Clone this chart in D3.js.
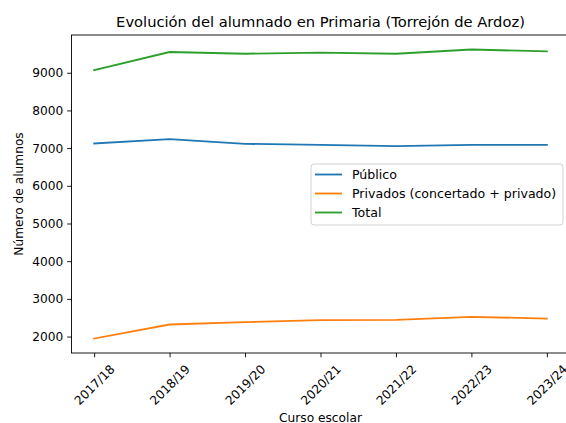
<!DOCTYPE html>
<html>
<head>
<meta charset="utf-8">
<script src="https://cdn.jsdelivr.net/npm/d3@7"></script>
<style>
  body { margin: 0; background: #fff; }
  svg { display: block; font-family: "DejaVu Sans", sans-serif; }
</style>
</head>
<body>
<svg></svg>
<script>
let cursos = ["2017/18", "2018/19", "2019/20", "2020/21", "2021/22", "2022/23", "2023/24"]
let publico = [7122, 7239, 7114, 7088, 7053, 7088, 7088]
let privados = [1947, 2319, 2383, 2436, 2444, 2523, 2478]
let total = [9069, 9550, 9505, 9535, 9505, 9618, 9566]
let yTicks = [2000, 3000, 4000, 5000, 6000, 7000, 8000, 9000]

let series = [
  { name: "Público", values: publico, color: "#1f77b4" },
  { name: "Privados (concertado + privado)", values: privados, color: "#ff7f0e" },
  { name: "Total", values: total, color: "#2ca02c" }
]

let w = 566
let h = 423
let pLeft = 71.5
let pRight = 569.5
let pTop = 35
let pBottom = 353
let fs = 12.2

let svg = d3.select("svg").attr("width", w).attr("height", h)

// matplotlib-like 5% margins
let n = cursos.length
let xScale = d3.scaleLinear()
  .domain([-0.05 * (n - 1), (n - 1) * 1.05])
  .range([pLeft, pRight])

let all = publico.concat(privados, total)
let lo = d3.min(all), hi = d3.max(all)
let m = (hi - lo) * 0.05
let yScale = d3.scaleLinear()
  .domain([lo - m, hi + m])
  .range([pBottom, pTop])

let xAxis = d3.axisBottom(xScale)
  .tickValues(d3.range(n))
  .tickFormat((i) => cursos[i])
  .tickSize(4.3)
  .tickSizeOuter(0)

let yAxis = d3.axisLeft(yScale)
  .tickValues(yTicks)
  .tickFormat(d3.format("d"))
  .tickSize(4.3)
  .tickPadding(4)
  .tickSizeOuter(0)

let gx = svg.append("g")
  .attr("transform", `translate(0, ${pBottom})`)
  .call(xAxis)
gx.select(".domain").remove()
gx.selectAll("line").attr("stroke", "#000").attr("stroke-width", 0.9)
gx.selectAll("text")
  .attr("font-size", fs)
  .attr("font-family", "DejaVu Sans")
  .attr("fill", "#000")
  .attr("text-anchor", "middle")
  .attr("dominant-baseline", "central")
  .attr("y", 0)
  .attr("dy", 0)
  .attr("transform", "translate(0, 32) rotate(-45)")

let gy = svg.append("g")
  .attr("transform", `translate(${pLeft}, 0)`)
  .call(yAxis)
gy.select(".domain").remove()
gy.selectAll("line").attr("stroke", "#000").attr("stroke-width", 0.9)
gy.selectAll("text")
  .attr("font-size", fs)
  .attr("font-family", "DejaVu Sans")
  .attr("fill", "#000")

// lines
let line = d3.line()
  .x((d, i) => xScale(i))
  .y((d) => yScale(d))

svg.selectAll(".serie")
  .data(series)
  .enter()
  .append("path")
  .attr("class", "serie")
  .attr("d", (d) => line(d.values))
  .attr("fill", "none")
  .attr("stroke", (d) => d.color)
  .attr("stroke-width", 1.85)
  .attr("stroke-linecap", "square")

// spines
svg.append("rect")
  .attr("x", pLeft)
  .attr("y", pTop)
  .attr("width", pRight - pLeft)
  .attr("height", pBottom - pTop)
  .attr("fill", "none")
  .attr("stroke", "#000")
  .attr("stroke-width", 0.9)

// title and labels
svg.append("text")
  .attr("x", (pLeft + pRight) / 2)
  .attr("y", 27)
  .attr("text-anchor", "middle")
  .attr("font-size", 14.7)
  .text("Evolución del alumnado en Primaria (Torrejón de Ardoz)")

svg.append("text")
  .attr("x", (pLeft + pRight) / 2)
  .attr("y", 421.5)
  .attr("text-anchor", "middle")
  .attr("font-size", fs)
  .text("Curso escolar")

svg.append("text")
  .attr("transform", `translate(19, ${(pTop + pBottom) / 2}) rotate(-90)`)
  .attr("text-anchor", "middle")
  .attr("dominant-baseline", "central")
  .attr("font-size", fs)
  .text("Número de alumnos")

// legend
let lg = svg.append("g")
lg.append("rect")
  .attr("x", 311)
  .attr("y", 164)
  .attr("width", 252)
  .attr("height", 61)
  .attr("rx", 3)
  .attr("fill", "#fff")
  .attr("fill-opacity", 0.8)
  .attr("stroke", "#cccccc")
  .attr("stroke-width", 0.9)

lg.selectAll(".lgline")
  .data(series)
  .enter()
  .append("line")
  .attr("x1", 315)
  .attr("x2", 342)
  .attr("y1", (d, i) => 174.5 + i * 19)
  .attr("y2", (d, i) => 174.5 + i * 19)
  .attr("stroke", (d) => d.color)
  .attr("stroke-width", 1.85)

lg.selectAll(".lgtext")
  .data(series)
  .enter()
  .append("text")
  .attr("x", 352)
  .attr("y", (d, i) => 179 + i * 19)
  .attr("font-size", 12.6)
  .text((d) => d.name)
</script>
</body>
</html>
